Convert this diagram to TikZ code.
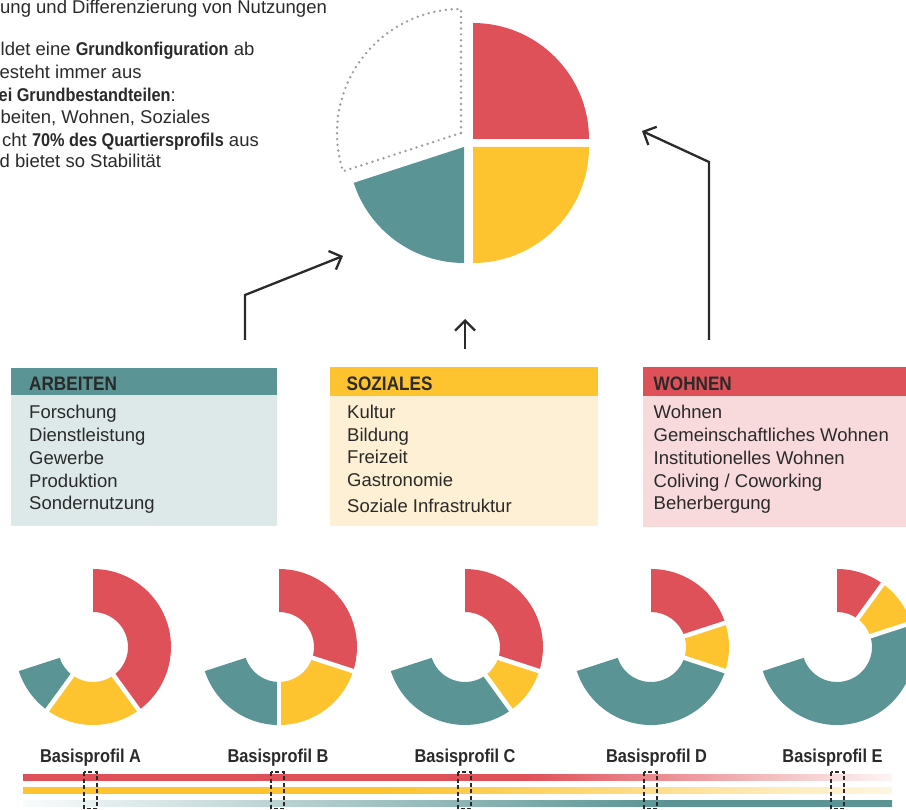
\documentclass[tikz,border=0pt]{standalone}
\usepackage{fontspec}
\setmainfont{Liberation Sans}
\newfontfamily\condf[FakeStretch=0.88]{Liberation Sans}
\usetikzlibrary{arrows.meta}
\definecolor{cred}{HTML}{DF5159}
\definecolor{cyel}{HTML}{FDC42F}
\definecolor{ctea}{HTML}{5A9494}
\definecolor{credL}{HTML}{F8D9DC}
\definecolor{cyelL}{HTML}{FEF0D4}
\definecolor{cteaL}{HTML}{DDE9E9}
\definecolor{ink}{HTML}{2A2A2A}
\colorlet{credF}{cred!6!white}
\colorlet{cyelF}{cyel!15!white}
\colorlet{cteaF}{ctea!3!white}
\pgfdeclarehorizontalshading{redbar}{100bp}{color(0bp)=(cred); color(25bp)=(cred); color(54bp)=(cred); color(75bp)=(credF); color(100bp)=(credF)}
\pgfdeclarehorizontalshading{yelbar}{100bp}{color(0bp)=(cyel); color(25bp)=(cyel); color(46bp)=(cyel); color(75bp)=(cyelF); color(100bp)=(cyelF)}
\pgfdeclarehorizontalshading{teabar}{100bp}{color(0bp)=(cteaF); color(25bp)=(cteaF); color(62bp)=(ctea); color(100bp)=(ctea)}
\newcommand\bc[1]{{\condf\bfseries #1}}
\newcommand\dseg[3]{\fill[#1] (#2:78) arc[start angle=#2,end angle=#3,radius=78] -- (#3:35) arc[start angle=#3,end angle=#2,radius=35] -- cycle;}
\newcommand\dgap[1]{\draw[white,line width=4.5pt] (#1:30) -- (#1:84);}
\tikzset{
  txt/.style={anchor=base west, inner sep=0pt, font=\fontsize{18.5}{23}\selectfont, text=ink},
  hdr/.style={anchor=base west, inner sep=0pt, font=\condf\bfseries\fontsize{19.5}{23}\selectfont, text=ink},
  lbl/.style={anchor=base, inner sep=0pt, font=\condf\bfseries\fontsize{18.6}{22}\selectfont, text=ink},
  conn/.style={draw=ink, line width=2.3pt, -{Straight Barb[length=10pt,width=20pt]}},
  dashbox/.style={draw=ink, line width=1.2pt, dash pattern=on 4pt off 2.5pt},
  dotwedge/.style={draw=black!38, line width=2.7pt, line cap=round, dash pattern=on 0pt off 5.8pt}
}
\begin{document}
\begin{tikzpicture}[x=1pt,y=-1pt]
\useasboundingbox (0,0) rectangle (906,810);

% top-left text
\node[txt] (t1) at (0,14) {ung und Differenzierung von Nutzungen};
\node[txt] (t2) at (0.5,56) {ldet eine \bc{Grundkonfiguration} ab};
\node[txt] (t3) at (-0.5,79) {esteht immer aus};
\node[txt] (t4) at (-1.5,101.5) {\bc{ei Grundbestandteilen}:};
\node[txt] (t5) at (0.5,123.5) {beiten, Wohnen, Soziales};
\node[txt] (t6) at (2,146.5) {cht \bc{70\% des Quartiersprofils} aus};
\node[txt] (t7) at (-0.5,168) {d bietet so Stabilität};

% pie
\begin{scope}[shift={(461,133)},yscale=-1]
  \draw[dotwedge] (0,0) -- (90:124) arc[start angle=90,end angle=198,radius=124] -- cycle;
\end{scope}
\begin{scope}[shift={(473,139)},yscale=-1]
  \fill[cred] (0,0) -- (90:116) arc[start angle=90,end angle=0,radius=116] -- cycle;
\end{scope}
\begin{scope}[shift={(473,147)},yscale=-1]
  \fill[cyel] (0,0) -- (0:116) arc[start angle=0,end angle=-90,radius=116] -- cycle;
\end{scope}
\begin{scope}[shift={(464,147)},yscale=-1]
  \fill[ctea] (0,0) -- (-90:116) arc[start angle=-90,end angle=-162,radius=116] -- cycle;
\end{scope}

% arrows
\coordinate (aL0) at (245,340);
\coordinate (aL1) at (245,295);
\coordinate (pieL) at (343,256);
\coordinate (aM0) at (465,349);
\coordinate (pieB) at (465,319);
\coordinate (aR0) at (709,340);
\coordinate (aR1) at (709,162);
\coordinate (pieR) at (642,131);
\draw[conn] (aL0) -- (aL1) -- (pieL);
\draw[conn] (aM0) -- (pieB);
\draw[conn] (aR0) -- (aR1) -- (pieR);

% boxes
\fill[cteaL] (11,395) rectangle (277,526);
\fill[ctea] (11,368) rectangle (277,395.5);
\fill[cyelL] (330,396) rectangle (598,526);
\fill[cyel] (330,367) rectangle (598,396.5);
\fill[credL] (643,396) rectangle (910,527);
\fill[cred] (643,367) rectangle (910,396.5);

\node[hdr] (hA) at (29,390.7) {ARBEITEN};
\node[hdr] (hS) at (346.5,390.7) {SOZIALES};
\node[hdr] (hW) at (653.5,390.2) {WOHNEN};

\node[txt] (a1) at (29,419) {Forschung};
\node[txt] (a2) at (29,442) {Dienstleistung};
\node[txt] (a3) at (29,465) {Gewerbe};
\node[txt] (a4) at (29,487.5) {Produktion};
\node[txt] (a5) at (29,510) {Sondernutzung};

\node[txt] (s1) at (347,418.5) {Kultur};
\node[txt] (s2) at (347,442) {Bildung};
\node[txt] (s3) at (347,464) {Freizeit};
\node[txt] (s4) at (347,486.5) {Gastronomie};
\node[txt] (s5) at (347,512) {Soziale Infrastruktur};

\node[txt] (w1) at (653.5,419) {Wohnen};
\node[txt] (w2) at (653.5,442) {Gemeinschaftliches Wohnen};
\node[txt] (w3) at (653.5,465) {Institutionelles Wohnen};
\node[txt] (w4) at (653.5,487.5) {Coliving / Coworking};
\node[txt] (w5) at (653.5,510) {Beherbergung};

% donuts
\begin{scope}[shift={(93,647)},yscale=-1]
  \dseg{cred}{90}{-54}\dseg{cyel}{-54}{-126}\dseg{ctea}{-126}{-162}
  \dgap{-54}\dgap{-126}
\end{scope}
\begin{scope}[shift={(279,647)},yscale=-1]
  \dseg{cred}{90}{-18}\dseg{cyel}{-18}{-90}\dseg{ctea}{-90}{-162}
  \dgap{-18}\dgap{-90}
\end{scope}
\begin{scope}[shift={(465,647)},yscale=-1]
  \dseg{cred}{90}{-18}\dseg{cyel}{-18}{-54}\dseg{ctea}{-54}{-162}
  \dgap{-18}\dgap{-54}
\end{scope}
\begin{scope}[shift={(651,647)},yscale=-1]
  \dseg{cred}{90}{18}\dseg{cyel}{18}{-18}\dseg{ctea}{-18}{-162}
  \dgap{18}\dgap{-18}
\end{scope}
\begin{scope}[shift={(837,647)},yscale=-1]
  \dseg{cred}{90}{54}\dseg{cyel}{54}{18}\dseg{ctea}{18}{-162}
  \dgap{54}\dgap{18}
\end{scope}

% labels
\node[lbl] (bA) at (90.5,762) {Basisprofil A};
\node[lbl] (bB) at (278,762) {Basisprofil B};
\node[lbl] (bC) at (465,762) {Basisprofil C};
\node[lbl] (bD) at (656.5,762) {Basisprofil D};
\node[lbl] (bE) at (832.5,762) {Basisprofil E};

% gradient bars
\shade[shading=redbar] (23,774) rectangle (892,780.5);
\shade[shading=yelbar] (23,787) rectangle (892,793.5);
\shade[shading=teabar] (23,800) rectangle (892,806.5);

% dashed markers
\foreach \x in {90.5,277.5,464.5,650.5,837.5}{
  \draw[dashbox] (\x-6.5,772) rectangle (\x+6.5,808.5);
}
\end{tikzpicture}
\end{document}
